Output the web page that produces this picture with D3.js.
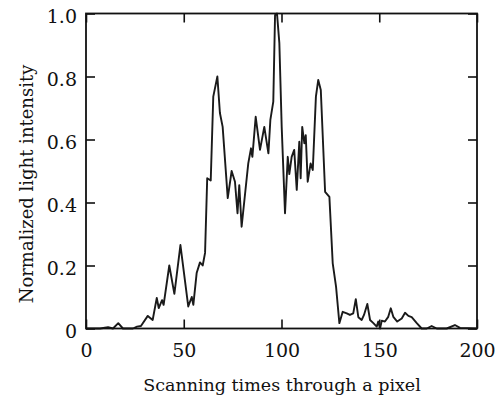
<!DOCTYPE html>
<html>
<head>
<meta charset="utf-8">
<script src="https://cdn.jsdelivr.net/npm/d3@7"></script>
<style>
  body { margin: 0; background: #fff; }
  text { font-family: "DejaVu Serif", "Liberation Serif", serif; fill: #111; }
</style>
</head>
<body>
<div id="chart"></div>
<script>
// scan index
const scanTimes = [0, 7.2, 11.3, 13.8, 16.5, 18.9, 24.0, 26.1, 28.1, 31.6, 34.1, 36.2, 37.2, 38.9, 39.7,
  42.6, 45.2, 48.3, 52.3, 54.1, 54.9, 56.6, 58.3, 59.7, 60.9, 62.0, 63.8, 65.1, 67.2, 68.5, 69.9,
  72.5, 74.5, 76.2, 77.5, 78.4, 79.6, 83.0, 84.4, 85.1, 86.8, 89.0, 91.2, 93.3, 94.3, 95.8, 96.7,
  97.7, 98.9, 100.1, 101.8, 103.2, 104.0, 105.2, 106.5, 107.8, 109.1, 109.8, 110.6, 111.7, 112.4,
  113.4, 114.9, 116.0, 117.6, 118.8, 120.1, 122.3, 124.5, 126.2, 127.9, 129.6, 131.3, 133.4, 135.0,
  136.7, 138.0, 139.3, 141.0, 142.2, 143.9, 145.3, 147.0, 148.7, 149.5, 150.4, 151.3, 152.9, 154.6,
  155.9, 157.2, 159.2, 161.5, 163.2, 164.9, 166.6, 169.2, 171.7, 174.3, 176.8, 179.4, 184.5, 188.7,
  191.3, 199.5];

const intensity = [0, 0, 0.004, 0, 0.017, 0, 0, 0.006, 0.008, 0.04, 0.027, 0.097, 0.065, 0.09, 0.075,
  0.2, 0.11, 0.265, 0.07, 0.10, 0.075, 0.176, 0.21, 0.2, 0.24, 0.477, 0.47, 0.736, 0.80, 0.684, 0.64,
  0.414, 0.50, 0.466, 0.366, 0.455, 0.323, 0.524, 0.572, 0.545, 0.672, 0.567, 0.64, 0.556, 0.662, 0.72, 0.995,
  1.0, 0.906, 0.64, 0.366, 0.545, 0.49, 0.545, 0.567, 0.44, 0.593, 0.477, 0.64, 0.588, 0.614,
  0.466, 0.524, 0.503, 0.736, 0.789, 0.757, 0.434, 0.418, 0.207, 0.133, 0.017, 0.053, 0.048, 0.043,
  0.048, 0.093, 0.036, 0.027, 0.043, 0.078, 0.027, 0.017, 0.006, 0.022, 0, 0.025, 0.022, 0.037,
  0.064, 0.037, 0.022, 0.032, 0.05, 0.04, 0.036, 0.017, 0, 0, 0.008, 0, 0, 0.011,
  0.002, 0];

const xTicks = [0, 50, 100, 150, 200];
const yTicks = [0, 0.2, 0.4, 0.6, 0.8, 1.0];

const width = 497, height = 398;
const margin = { top: 13.5, right: 20, bottom: 69.5, left: 86 };
const innerW = width - margin.left - margin.right;
const innerH = height - margin.top - margin.bottom;

const svg = d3.select('#chart')
  .append('svg')
  .attr('width', width)
  .attr('height', height);

const g = svg.append('g')
  .attr('transform', `translate(${margin.left}, ${margin.top})`);

const x = d3.scaleLinear().domain([0, 200]).range([0, innerW]);
const y = d3.scaleLinear().domain([0, 1]).range([innerH, 0]);

const fmtY = d => d === 0 ? '0' : d3.format('.1f')(d);

// axes: ticks point inward, labels only bottom and left
g.append('g')
  .attr('transform', `translate(0, ${innerH})`)
  .call(d3.axisBottom(x).tickValues(xTicks).tickSizeInner(-9).tickSizeOuter(0).tickPadding(15))
  .call(a => a.select('.domain').remove());

g.append('g')
  .call(d3.axisLeft(y).tickValues(yTicks).tickFormat(fmtY).tickSizeInner(-9).tickSizeOuter(0).tickPadding(9))
  .call(a => a.select('.domain').remove())
  .call(a => a.selectAll('.tick text').attr('dy', '0.45em'));

g.append('g')
  .call(d3.axisTop(x).tickValues(xTicks).tickSizeInner(-9).tickSizeOuter(0).tickFormat(''))
  .call(a => a.select('.domain').remove());

g.append('g')
  .attr('transform', `translate(${innerW}, 0)`)
  .call(d3.axisRight(y).tickValues(yTicks).tickSizeInner(-9).tickSizeOuter(0).tickFormat(''))
  .call(a => a.select('.domain').remove());

g.selectAll('.tick line').attr('stroke', '#111').attr('stroke-width', 1.6);
g.selectAll('.tick text')
  .attr('font-size', 19)
  .attr('font-family', '"Liberation Serif", serif')
  .attr('fill', '#111');

// curve
const pts = scanTimes.map((t, i) => [t, intensity[i]]);
g.append('path')
  .datum(pts)
  .attr('fill', 'none')
  .attr('stroke', '#1a1a1a')
  .attr('stroke-width', 1.9)
  .attr('stroke-linejoin', 'round')
  .attr('d', d3.line().x(d => x(d[0])).y(d => y(d[1])));

// frame
g.append('rect')
  .attr('width', innerW)
  .attr('height', innerH)
  .attr('fill', 'none')
  .attr('stroke', '#111')
  .attr('stroke-width', 1.8);

// titles
svg.append('text')
  .attr('x', 282)
  .attr('y', 391)
  .attr('text-anchor', 'middle')
  .attr('font-size', 17.5)
  .text('Scanning times through a pixel');

svg.append('text')
  .attr('transform', 'translate(33, 184) rotate(-90)')
  .attr('text-anchor', 'middle')
  .attr('font-size', 18)
  .text('Normalized light intensity');
</script>
</body>
</html>
